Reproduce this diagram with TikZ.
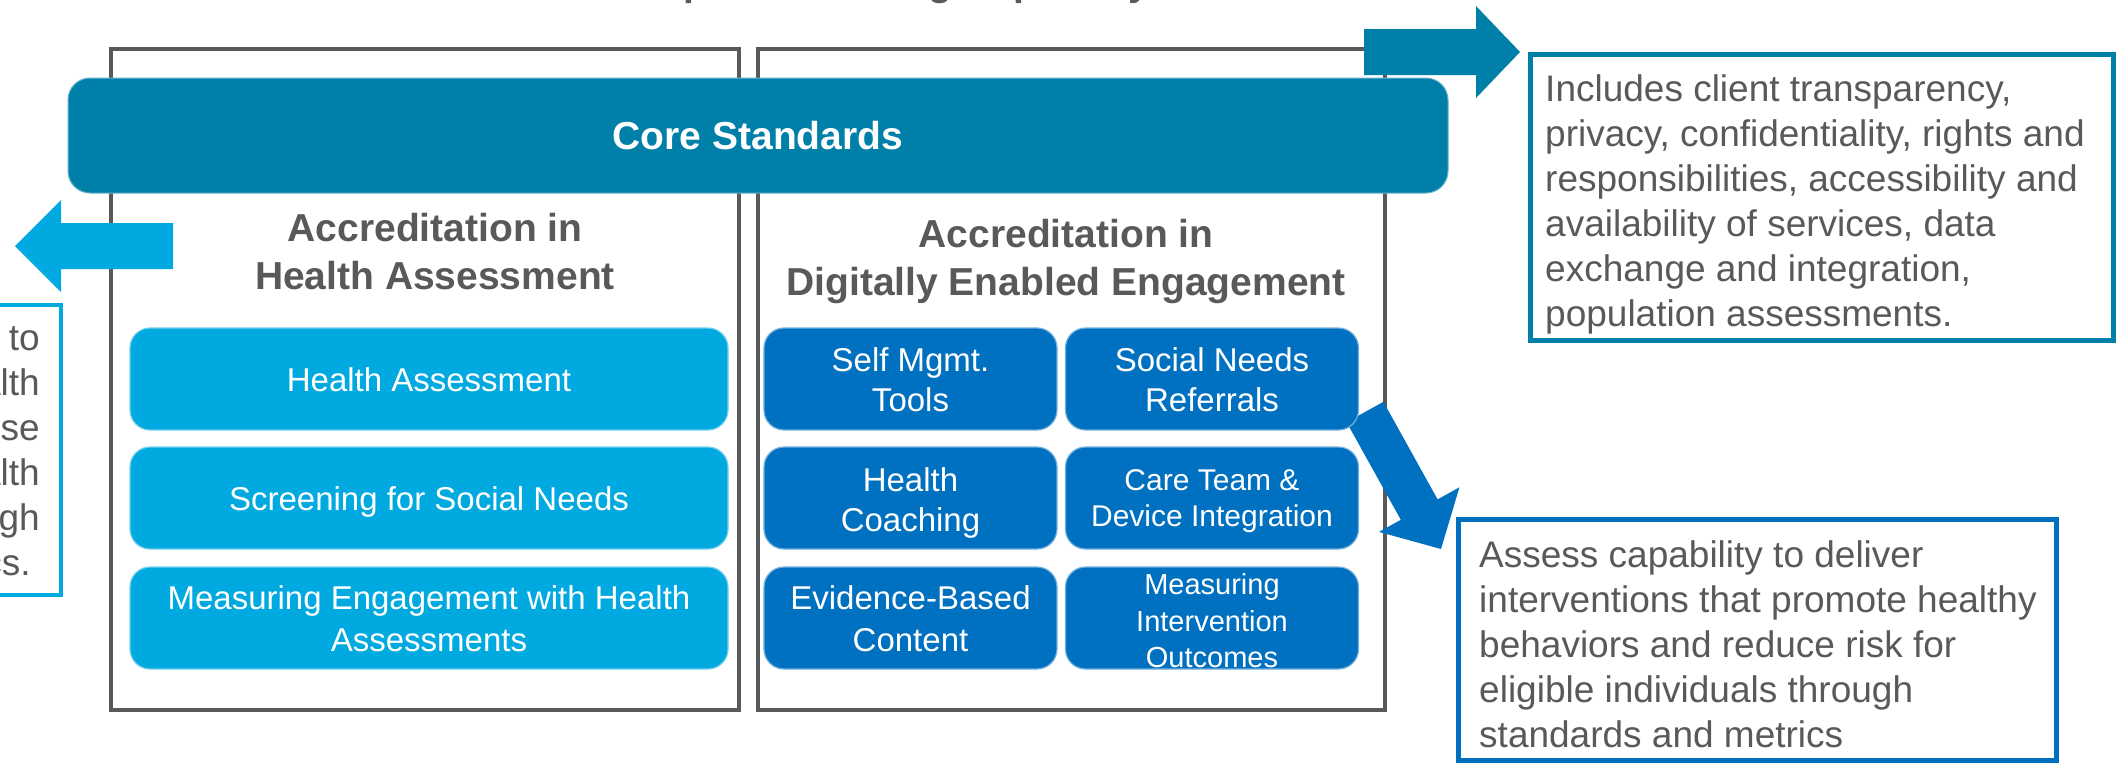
\documentclass[tikz,border=0pt]{standalone}
\usepackage{fontspec}
\setmainfont{Liberation Sans}
\definecolor{cteal}{HTML}{0080A8}
\definecolor{clight}{HTML}{00A9E0}
\definecolor{cblue}{HTML}{0070C0}
\definecolor{cgray}{HTML}{58595B}
\definecolor{ctext}{HTML}{595959}
\newcommand{\myfs}[2]{\fontsize{#1}{#2}\selectfont}
\begin{document}
\begin{tikzpicture}[x=1pt,y=-1pt,
  container/.style={draw=cgray, line width=3.5pt, inner sep=0pt},
  hbox/.style={fill=clight, draw=clight!55!white, line width=1.2pt, rounded corners=20pt, inner sep=0pt, minimum width=598pt, minimum height=102pt},
  dbox/.style={fill=cblue, draw=cblue!55!white, line width=1.2pt, rounded corners=20pt, inner sep=0pt, minimum width=293pt, minimum height=102pt},
  lbl/.style={text=white, align=center, inner sep=0pt, font=\myfs{33}{41}},
  header/.style={text=ctext, font=\bfseries\myfs{39}{48}, align=center, inner sep=0pt},
  infobox/.style={line width=5pt, fill=white, inner sep=0pt},
  infotext/.style={text=ctext, font=\myfs{37}{45}, inner sep=0pt},
  blockarrow/.style={draw=none}
]
\useasboundingbox (0,0) rectangle (2118,764);
\fill[white] (0,0) rectangle (2118,764);

% clipped title
\node[anchor=base west, text=ctext, font=\bfseries\myfs{39}{47}, inner sep=0pt] (title) at (259,-5) {Accreditations that Help Build Strong Capability};

% containers
\node[container, minimum width=628pt, minimum height=661pt] (leftC) at (425,379.5) {};
\node[container, minimum width=627pt, minimum height=661pt] (rightC) at (1071.5,379.5) {};

% block arrows
\fill[clight, blockarrow] (173,223) -- (61,223) -- (61,200) -- (15,246) -- (61,292) -- (61,269) -- (173,269) -- cycle;
\fill[cteal, blockarrow] (1364,29) -- (1476,29) -- (1476,6) -- (1520,52) -- (1476,98) -- (1476,75) -- (1364,75) -- cycle;
\fill[cblue, blockarrow] (1383.4,401.8) -- (1437.6,499.4) -- (1459.4,487.3) -- (1441,549) -- (1379,531.9) -- (1400.8,519.8) -- (1346.6,422.2) -- cycle;

% core standards bar
\node[fill=cteal, draw=cteal!60!white, line width=1pt, rounded corners=22pt, minimum width=1380pt, minimum height=115pt, inner sep=0pt, text=white, font=\bfseries\myfs{39}{47}] (core) at (758,135.5) {Core Standards};

% headers
\node[header] (hdrL) at (435,252) {Accreditation in\\Health Assessment};
\node[header] (hdrR) at (1066,261) {Accreditation in\\Digitally Enabled Engagement};

% left inner boxes
\node[hbox] (ha) at (429,379) {};
\node[lbl] (haT) at (429,380) {Health Assessment};
\node[hbox] (sn) at (429,498) {};
\node[lbl] (snT) at (429,502) {Screening for Social Needs};
\node[hbox] (me) at (429,618) {};
\node[lbl, font=\myfs{33}{42}] (meT) at (429,619) {Measuring Engagement with Health\\Assessments};

% right inner boxes
\node[dbox] (sm) at (910.5,379) {};
\node[lbl, font=\myfs{33}{40}] (smT) at (910.5,380) {Self Mgmt.\\Tools};
\node[dbox] (snr) at (1212,379) {};
\node[lbl, font=\myfs{33}{40}] (snrT) at (1212,380) {Social Needs\\Referrals};
\node[dbox] (hc) at (910.5,498) {};
\node[lbl, font=\myfs{33}{40}] (hcT) at (910.5,503) {Health\\Coaching};
\node[dbox] (ct) at (1212,498) {};
\node[lbl, font=\myfs{30}{36}] (ctT) at (1212,501) {Care Team \&\\Device Integration};
\node[dbox] (eb) at (910.5,618) {};
\node[lbl, font=\myfs{33}{42}] (ebT) at (910.5,619) {Evidence-Based\\Content};
\node[dbox] (mi) at (1212,618) {};
\node[lbl, font=\myfs{29}{36.5}] (miT) at (1212,621) {Measuring\\Intervention\\Outcomes};

% info boxes
\node[infobox, draw=cteal, minimum width=583pt, minimum height=286pt] (incl) at (1822,197.5) {};
\node[infotext, align=left, anchor=north west] (inclT) at (1545,74.5) {Includes client transparency,\\privacy, confidentiality, rights and\\responsibilities, accessibility and\\availability of services, data\\exchange and integration,\\population assessments.};

\node[infobox, draw=cblue, minimum width=598pt, minimum height=241pt] (assess) at (1757.5,640) {};
\node[infotext, align=left, anchor=north west] (assessT) at (1479,540) {Assess capability to deliver\\interventions that promote healthy\\behaviors and reduce risk for\\eligible individuals through\\standards and metrics};

\node[infobox, draw=clight, line width=4pt, minimum width=361pt, minimum height=290pt] (hab) at (-119.5,450) {};
\node[infotext, align=right, anchor=north east] (habT) at (40,323.5) {Assess capability to\\deliver and report health\\assessments and use\\results to improve health\\outcomes through\\standards and metrics.\hspace*{9pt}};
\end{tikzpicture}
\end{document}
